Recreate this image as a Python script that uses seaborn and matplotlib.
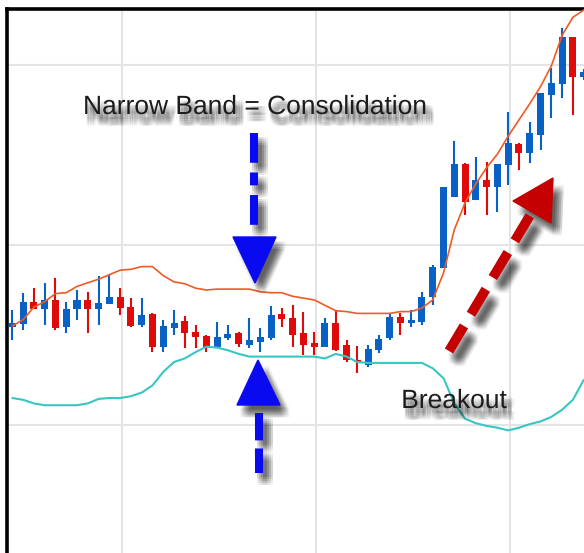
import numpy as np
import matplotlib
matplotlib.use("Agg")
import matplotlib.pyplot as plt
import matplotlib.patheffects as pe
import seaborn as sns

# candle data (price units), one entry per session
opens = [110.9, 111.2, 113.7, 112.9, 113.9, 110.9, 112.9, 113.9, 112.9, 113.4,
         114.2, 113.1, 111.1, 112.3, 108.7, 110.8, 111.6, 110.3, 109.9, 108.7,
         109.7, 110.2, 108.9, 109.2, 109.7, 112.3, 111.9, 110.2, 109.1, 108.7,
         111.3, 108.9, 107.2, 106.7, 108.3, 109.7, 112.0, 111.3, 111.4, 114.2,
         117.4, 125.3, 129.0, 125.0, 127.2, 126.4, 128.9, 131.2, 130.2, 132.2,
         136.7, 137.9, 143.1, 138.7]
closes = [111.3, 113.7, 112.9, 113.9, 110.8, 112.9, 113.9, 112.9, 113.6, 114.2,
          113.0, 111.0, 112.2, 108.7, 111.0, 111.3, 110.2, 109.8, 108.7, 109.8,
          110.1, 109.0, 109.4, 109.8, 112.2, 111.8, 110.0, 108.9, 108.7, 111.3,
          108.3, 107.2, 107.0, 108.4, 109.6, 112.0, 111.3, 111.7, 114.2, 117.6,
          126.4, 129.0, 124.8, 127.2, 126.4, 129.0, 131.3, 130.2, 132.4, 136.9,
          138.0, 143.1, 138.7, 139.2]
highs = [112.8, 114.7, 115.2, 115.8, 116.3, 113.7, 115.0, 114.8, 116.6, 116.7,
         115.2, 114.1, 114.1, 112.4, 111.7, 112.8, 112.1, 111.1, 110.0, 111.4,
         111.1, 110.3, 111.9, 110.8, 113.2, 113.0, 113.3, 112.6, 110.3, 111.9,
         112.7, 109.4, 108.8, 108.9, 110.0, 112.4, 112.4, 112.8, 114.8, 117.8,
         126.4, 131.6, 129.1, 129.8, 129.2, 129.0, 134.8, 131.3, 133.7, 136.9,
         139.7, 144.1, 143.1, 139.6]
lows = [109.4, 110.6, 112.9, 111.1, 110.6, 110.2, 111.7, 110.2, 111.1, 113.4,
        112.2, 110.9, 110.9, 108.1, 108.1, 110.0, 108.6, 108.6, 108.1, 108.6,
        109.4, 108.7, 108.6, 108.1, 109.4, 110.9, 108.7, 107.8, 107.8, 108.7,
        108.2, 107.0, 105.8, 106.4, 108.0, 109.4, 110.0, 110.9, 111.1, 113.3,
        117.4, 125.3, 123.3, 125.0, 123.3, 123.7, 126.7, 128.3, 129.1, 130.6,
        134.1, 136.3, 134.4, 138.3]

# bollinger bands
upper_band = [111.0, 111.7, 113.1, 113.7, 114.6, 114.7, 115.4, 115.8, 116.2, 116.7,
              117.2, 117.3, 117.6, 117.6, 116.6, 115.9, 115.7, 115.2, 115.0, 115.1,
              115.1, 115.1, 115.1, 114.8, 114.7, 114.7, 114.3, 114.1, 113.9, 113.3,
              112.7, 112.6, 112.4, 112.4, 112.4, 112.4, 112.6, 112.6, 113.0, 113.9,
              116.9, 121.7, 124.7, 126.8, 128.6, 130.1, 132.1, 133.9, 135.7, 137.6,
              139.9, 143.3, 145.3, 146.1]
lower_band = [103.0, 102.8, 102.4, 102.2, 102.2, 102.2, 102.2, 102.4, 102.9, 103.0,
              103.0, 103.2, 103.6, 104.4, 105.9, 107.0, 107.4, 108.1, 108.7, 108.6,
              108.3, 107.9, 107.6, 107.6, 107.6, 107.6, 107.6, 107.6, 107.6, 107.4,
              107.9, 107.6, 107.0, 106.9, 106.9, 106.9, 106.9, 106.9, 106.9, 106.3,
              105.2, 102.4, 100.7, 100.2, 99.9, 99.7, 99.4, 99.7, 100.1, 100.4,
              100.9, 101.7, 102.8, 105.0]

UP = "#0862C6"
DOWN = "#DF0A0A"

sns.set_theme(style="whitegrid", rc={"grid.color": "#E4E4E4", "grid.linewidth": 1.5})
plt.rcParams["font.family"] = ["Liberation Sans", "DejaVu Sans"]

fig = plt.figure(figsize=(5.84, 5.53), dpi=100)
fig.patch.set_facecolor("white")
ax = fig.add_axes([6.5 / 584, 0, 1 - 6.5 / 584, 1 - 9 / 553])
ax.set_facecolor("white")

idx = np.arange(len(opens))
o = np.array(opens)
c = np.array(closes)
cols = [UP if cc >= oo else DOWN for oo, cc in zip(o, c)]

# candles
ax.vlines(idx, lows, highs, colors=cols, linewidth=1.5, zorder=2)
body = np.maximum(np.abs(c - o), 0.25)
ax.bar(idx, body, bottom=np.minimum(o, c), width=0.65, color=cols,
       linewidth=0, zorder=3)

# bands on top of the candles
sns.lineplot(x=idx, y=upper_band, ax=ax, color="#EE5B26", linewidth=1.2, zorder=4)
sns.lineplot(x=idx, y=lower_band, ax=ax, color="#36C7C2", linewidth=1.5, zorder=4)

ax.set_xlim(-0.54, 53.03)
ax.set_ylim(85.78, 146.22)
ax.set_xticks(np.arange(10.18, 53, 18.0))
ax.set_yticks([100, 120, 140])
ax.set_xticklabels([])
ax.set_yticklabels([])
ax.tick_params(length=0)
ax.set_xlabel("")
ax.set_ylabel("")
for side in ["right", "bottom"]:
    ax.spines[side].set_visible(False)
for side in ["top", "left"]:
    ax.spines[side].set_visible(True)
    ax.spines[side].set_color("black")
    ax.spines[side].set_linewidth(2.6)


def soft_shadow(kind, dx=4.5, dy=-6.0, spread=1.4, alpha=0.035):
    # stack of faint offset copies, gives a blurred drop shadow
    effects = []
    for ox in (-2, -1, 0, 1, 2):
        for oy in (-2, -1, 0, 1, 2):
            off = (dx + ox * spread, dy + oy * spread)
            if kind == "line":
                effects.append(pe.SimpleLineShadow(offset=off, shadow_color="black", alpha=alpha))
            else:
                effects.append(pe.SimplePatchShadow(offset=off, shadow_rgbFace="black", alpha=alpha))
    effects.append(pe.Normal())
    return effects


# annotation layer in pixel space
ov = fig.add_axes([0, 0, 1, 1], zorder=5)
ov.set_xlim(0, 584)
ov.set_ylim(553, 0)
ov.axis("off")
ov.patch.set_alpha(0)

BLUE = "#0A0AF0"
RED = "#C40000"

# top blue arrow (pointing down)
ov.plot([254, 254], [133, 230], color=BLUE, linewidth=5.8, dashes=(3.7, 1.2, 1.6, 1.2),
        dash_capstyle="butt", path_effects=soft_shadow("line"))
ov.add_patch(plt.Polygon([(233, 237), (276, 237), (255, 283)], closed=True,
                         color=BLUE, path_effects=soft_shadow("patch")))

# bottom blue arrow (pointing up)
ov.plot([259, 259], [413, 473], color=BLUE, linewidth=5.8, dashes=(3.4, 1.0),
        dash_capstyle="butt", path_effects=soft_shadow("line"))
ov.add_patch(plt.Polygon([(237, 405), (280, 405), (258, 360)], closed=True,
                         color=BLUE, path_effects=soft_shadow("patch")))

# red breakout arrow
ov.plot([449, 532], [351, 212], color=RED, linewidth=7.0, dashes=(3.0, 1.4),
        dash_capstyle="butt", path_effects=soft_shadow("line", dx=5, dy=-7))
ov.add_patch(plt.Polygon([(513, 201), (553, 178), (551, 223)], closed=True,
                         color=RED, path_effects=soft_shadow("patch", dx=5, dy=-7)))

ov.text(255, 114, "Narrow Band = Consolidation", ha="center", va="baseline",
        fontsize=19, color="#1C1C1C",
        path_effects=soft_shadow("patch", dx=3.5, dy=-6, spread=1.2, alpha=0.04))
ov.text(454, 408, "Breakout", ha="center", va="baseline",
        fontsize=19, color="#1C1C1C",
        path_effects=soft_shadow("patch", dx=3.5, dy=-6, spread=1.2, alpha=0.04))

fig.savefig("out.png", dpi=100)
